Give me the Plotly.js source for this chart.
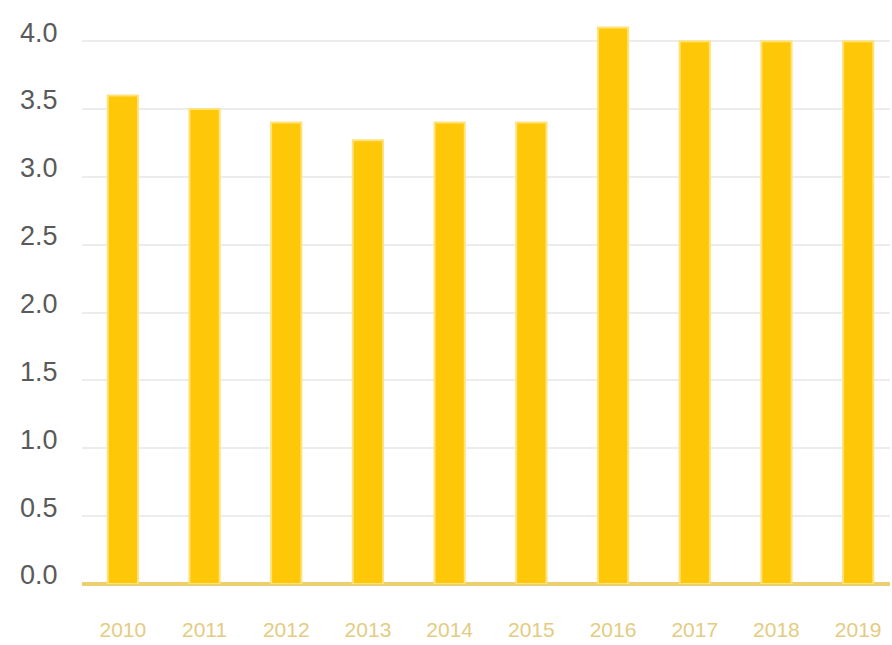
<!DOCTYPE html>
<html>
<head>
<meta charset="utf-8">
<script src="https://cdn.plot.ly/plotly-3.0.1.min.js"></script>
<style>html,body{margin:0;padding:0;background:#fff;}#chart{width:892px;height:645px;}</style>
</head>
<body>
<div id="chart"></div>
<script>
var years = ['2010','2011','2012','2013','2014','2015','2016','2017','2018','2019'];
var values = [3.6, 3.5, 3.4, 3.27, 3.4, 3.4, 4.1, 4.0, 4.0, 4.0];
var yTicks = [0, 0.5, 1.0, 1.5, 2.0, 2.5, 3.0, 3.5, 4.0];
var yTickText = ['0.0','0.5','1.0','1.5','2.0','2.5','3.0','3.5','4.0'];

var trace = {
  type: 'bar',
  x: years,
  y: values,
  marker: {color: '#fec808', line: {color: '#ffe27a', width: 2}},
  hoverinfo: 'x+y'
};

var layout = {
  width: 892,
  height: 645,
  margin: {l: 82, r: 2, t: 14, b: 61},
  paper_bgcolor: '#ffffff',
  plot_bgcolor: '#ffffff',
  showlegend: false,
  bargap: 0.63,
  font: {family: 'Liberation Sans, Arial, sans-serif'},
  xaxis: {
    type: 'category',
    range: [-0.5, 9.39],
    showgrid: false,
    zeroline: false,
    showline: false,
    ticks: 'outside',
    ticklen: 27,
    tickcolor: 'rgba(0,0,0,0)',
    tickfont: {size: 21, color: '#e3cc82'}
  },
  yaxis: {
    range: [0, 4.2],
    tickvals: yTicks,
    ticktext: yTickText,
    showgrid: true,
    gridcolor: '#ececec',
    gridwidth: 2,
    zeroline: true,
    zerolinecolor: '#edcf72',
    zerolinewidth: 4,
    showline: false,
    ticks: 'outside',
    ticklen: 18,
    tickcolor: 'rgba(0,0,0,0)',
    ticklabelshift: -9,
    tickfont: {size: 27, color: '#5a5a5a'}
  }
};

Plotly.newPlot('chart', [trace], layout, {displayModeBar: false, staticPlot: true});
</script>
</body>
</html>
